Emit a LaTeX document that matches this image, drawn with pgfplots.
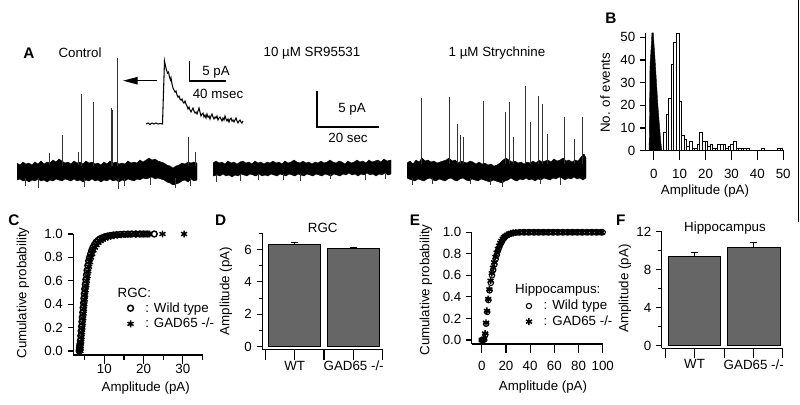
\documentclass[border=0pt]{standalone}
\usepackage{pgfplots}
\pgfplotsset{compat=1.18}
\usetikzlibrary{arrows.meta}
\usepackage{fontspec}
\setmainfont{Liberation Sans}
\newcommand{\fs}{\fontsize{10}{11.5}\selectfont}
\newcommand{\lt}{\fontsize{11.5}{13}\selectfont\bfseries}
\definecolor{barfill}{gray}{0.40}
\pgfplotsset{
  panel/.style={scale only axis, anchor=south west, axis lines=left,
    axis line style={-, line width=0.8pt}, tick align=outside,
    tick style={black, line width=0.8pt},
    major tick length=4.3pt, minor tick length=2.6pt,
    /pgf/number format/assume math mode=true,
    tick label style={font=\fs}, clip=false,
    legend style={font=\fs, draw=none, fill=none, inner sep=0pt, row sep=-1pt},
    legend cell align=left,
    legend image code/.code={\draw[mark repeat=2,mark phase=2,##1] plot coordinates {(0cm,0cm) (0.15cm,0cm) (0.3cm,0cm)}; \path (0.45cm,0cm);}},
}
\begin{document}
\begin{tikzpicture}[font=\fs]
\path[use as bounding box] (0,0) rectangle (600pt,303pt);
% ---------- overlay axis in pixel units (panel A and texts) ----------
\begin{axis}[at={(0pt,0pt)}, anchor=south west, scale only axis, width=600pt, height=303pt,
  xmin=0, xmax=800, ymin=0, ymax=404, y dir=reverse, axis lines=none, clip=false,
  unbounded coords=jump]
% Control trace noise band
\addplot[fill=black, draw=black, line width=0.3pt] coordinates {
(17,163) (20,165) (23,162) (26,164) (29,163) (32,165) (35,162) (38,164) (41,161) (44,164) (47,162) (50,163) (53,160) (56,162) (59,159) (62,161) (65,163) (68,162) (71,164) (74,161) (77,163) (80,162) (83,164) (86,161) (89,163) (92,162) (95,164) (98,163) (101,165) (104,162) (107,164) (110,161) (113,163) (116,162) (119,164) (122,163) (125,164) (128,161) (131,163) (134,162) (137,163) (140,160) (143,162) (146,160) (149,158) (152,160) (155,159) (158,161) (161,162) (164,163) (167,165) (170,166) (173,168) (176,166) (179,165) (182,163) (185,164) (188,162) (191,163) (194,162) (197,163)
(197,180) (194,181) (191,179) (188,182) (185,180) (182,181) (179,183) (176,184) (173,185) (170,183) (167,182) (164,180) (161,179) (158,178) (155,179) (152,177) (149,178) (146,179) (143,178) (140,180) (137,179) (134,181) (131,180) (128,179) (125,181) (122,180) (119,182) (116,180) (113,181) (110,179) (107,181) (104,180) (101,182) (98,180) (95,181) (92,179) (89,181) (86,180) (83,182) (80,180) (77,181) (74,179) (71,181) (68,180) (65,179) (62,181) (59,180) (56,179) (53,181) (50,180) (47,182) (44,180) (41,181) (38,179) (35,181) (32,180) (29,182) (26,180) (23,181) (20,179) (17,180)};
% Control spikes
\addplot[black!80, line width=0.6pt] coordinates {
(62,166) (62,135) (62,nan) (81,166) (81,94) (81,nan) (93,166) (93,102) (93,nan)
(111,166) (111,108) (111,nan) (112.5,166) (112.5,110) (112.5,nan) (117,166) (117,58) (117,nan)
(188,166) (188,137) (188,nan) (195,166) (195,152) (195,nan) (49,165) (49,153) (49,nan) (78,165) (78,152) (78,nan)
(25,178) (25,186) (25,nan) (38,178) (38,188) (38,nan) (84,178) (84,187) (84,nan) (118,178) (118,189) (118,nan)
(124,178) (124,186) (124,nan) (150,178) (150,185) (150,nan) (175,178) (175,188) (175,nan) (190,178) (190,186)};
% SR95531 trace
\addplot[fill=black, draw=black, line width=0.3pt] coordinates {
(213,163) (216,161) (219,163) (222,162) (225,164) (228,161) (231,163) (234,162) (237,164) (240,162) (243,161) (246,163) (249,162) (252,164) (255,161) (258,163) (261,162) (264,164) (267,162) (270,163) (273,161) (276,163) (279,162) (282,164) (285,161) (288,163) (291,162) (294,160) (297,162) (300,163) (303,161) (306,163) (309,162) (312,164) (315,162) (318,163) (321,161) (324,163) (327,162) (330,160) (333,162) (336,163) (339,161) (342,162) (345,164) (348,161) (351,163) (354,162) (357,160) (360,162) (363,161) (366,163) (369,160) (372,162) (375,161) (378,160) (381,162) (384,159) (387,161) (391,160)
(391,174) (388,175) (385,173) (382,175) (379,174) (376,176) (373,174) (370,175) (367,173) (364,175) (361,174) (358,176) (355,174) (352,175) (349,173) (346,175) (343,174) (340,176) (337,175) (334,174) (331,176) (328,175) (325,174) (322,176) (319,175) (316,174) (313,176) (310,175) (307,174) (304,176) (301,175) (298,174) (295,176) (292,175) (289,174) (286,176) (283,175) (280,174) (277,176) (274,175) (271,174) (268,176) (265,175) (262,176) (259,174) (256,176) (253,175) (250,174) (247,176) (244,175) (241,174) (238,176) (235,175) (232,177) (229,175) (226,176) (223,174) (220,176) (217,175) (213,176)};
\addplot[black!80, line width=0.6pt] coordinates {
(216,174) (216,182) (216,nan) (240,174) (240,181) (240,nan) (258,174) (258,180) (258,nan) (283,174) (283,180) (283,nan)
(300,174) (300,181) (300,nan) (330,174) (330,179) (330,nan) (365,174) (365,180) (365,nan) (385,174) (385,179)};
% Strychnine trace
\addplot[fill=black, draw=black, line width=0.3pt] coordinates {
(407,163) (410,161) (413,164) (416,160) (419,162) (422,158) (425,161) (428,160) (431,162) (434,161) (437,163) (440,162) (443,161) (446,160) (449,158) (452,161) (455,160) (458,163) (461,161) (464,162) (467,163) (470,161) (473,162) (476,164) (479,162) (482,164) (485,163) (488,165) (491,164) (494,166) (497,165) (500,163) (503,160) (506,158) (509,160) (512,162) (515,161) (518,163) (521,162) (524,164) (527,162) (530,163) (533,161) (536,163) (539,160) (542,162) (545,161) (548,160) (551,162) (554,159) (557,161) (560,160) (563,158) (566,161) (569,160) (572,162) (575,160) (578,161) (581,157) (584,154) (586,158)
(586,178) (583,180) (580,178) (577,179) (574,177) (571,179) (568,178) (565,180) (562,178) (559,177) (556,179) (553,178) (550,180) (547,179) (544,178) (541,180) (538,179) (535,181) (532,179) (529,180) (526,178) (523,180) (520,179) (517,181) (514,180) (511,178) (508,180) (505,181) (502,183) (499,182) (496,181) (493,180) (490,182) (487,181) (484,180) (481,179) (478,181) (475,180) (472,179) (469,181) (466,180) (463,178) (460,179) (457,181) (454,180) (451,178) (448,179) (445,181) (442,180) (439,179) (436,181) (433,180) (430,178) (427,179) (424,181) (421,180) (418,179) (415,181) (412,180) (409,179) (407,178)};
\addplot[black!80, line width=0.6pt] coordinates {
(421,164) (421,98) (421,nan) (449,164) (449,97) (449,nan) (457,164) (457,124) (457,nan) (460,164) (460,135) (460,nan)
(463,164) (463,137) (463,nan) (483,164) (483,101) (483,nan) (505,164) (505,112) (505,nan) (509,164) (509,102) (509,nan)
(513,164) (513,137) (513,nan) (525,164) (525,86) (525,nan) (530,164) (530,122) (530,nan) (538,164) (538,96) (538,nan)
(542,164) (542,104) (542,nan) (547,164) (547,134) (547,nan) (564,164) (564,117) (564,nan) (574,164) (574,139) (574,nan)
(582,164) (582,117) (582,nan)
(412,178) (412,185) (412,nan) (432,178) (432,184) (432,nan) (470,178) (470,184) (470,nan) (490,178) (490,185) (490,nan)
(502,180) (502,187) (502,nan) (540,178) (540,184) (540,nan) (560,178) (560,185)};
% inset event
\addplot[black, line width=0.8pt] coordinates {
(146,124) (148,123) (150,124.5) (152,123) (154,124) (156,123) (158,124) (160,123.5) (162.5,124) (163.5,92) (164.5,61) (165.5,66) (166.5,70) (167.5,73) (168.5,72) (169.5,77) (170.5,80) (171,78) (172,84) (173,88) (174,90) (175,92) (176,91) (177,95) (178,97) (179,96) (180,99) (181,100) (182,99) (183,102) (184,103) (185,101) (186,104) (187,106) (188,109) (189,107) (190,110) (191,112) (192,110) (193,108) (194,111) (195,113) (196,112) (197,114) (198,111) (199,108) (200,112) (201,116) (202,114) (203,113) (204,117) (205,115) (206,118) (207,114) (208,117) (209,116) (210,119) (211,116) (212,114) (213,117) (214,119) (215,117) (216,118) (217,116) (218,120) (219,118) (220,117) (221,119) (222,121) (223,118) (224,120) (225,116) (226,119) (227,121) (228,119) (229,122) (230,119) (231,118) (232,121) (233,120) (234,122) (235,120) (236,118) (237,121) (238,123) (239,121) (240,120) (241,122) (242,123) (243,121)};
% arrow
\addplot[black, line width=1pt, -{Triangle[length=11pt,width=5.5pt]}] coordinates {(157,80.7) (123,80.7)};
% scale bars
\addplot[black, line width=0.9pt] coordinates {(189.3,61) (189.3,81) (225.7,81)};
\addplot[black, line width=0.9pt] coordinates {(317,91) (317,127) (379,127)};
% edge line
\addplot[black, line width=0.8pt] coordinates {(798.5,0) (798.5,222)};
% texts
\node[font=\lt] at (axis cs:29,53) {A};
\node at (axis cs:80,53) {Control};
\node at (axis cs:312,53) {10 µM SR95531};
\node at (axis cs:497,53) {1 µM Strychnine};
\node at (axis cs:216,72) {5 pA};
\node at (axis cs:218,94) {40 msec};
\node at (axis cs:352,109) {5 pA};
\node at (axis cs:348,138) {20 sec};
\node[font=\lt] at (axis cs:611,18) {B};
\node[rotate=90] at (axis cs:605,93) {No. of events};
\node at (axis cs:705,191) {Amplitude (pA)};
\node[font=\lt] at (axis cs:14,220.7) {C};
\node[rotate=90] at (axis cs:23,293) {Cumulative probability};
\node at (axis cs:145.7,388) {Amplitude (pA)};
\node[anchor=west] at (axis cs:113,293) {RGC:};
\node[font=\lt] at (axis cs:220.7,220.7) {D};
\node at (axis cs:322.7,228.3) {RGC};
\node[rotate=90] at (axis cs:226,291) {Amplitude (pA)};
\node[font=\lt] at (axis cs:415,220) {E};
\node[rotate=90] at (axis cs:426,290) {Cumulative probability};
\node at (axis cs:543,387) {Amplitude (pA)};
\node[anchor=west] at (axis cs:510.5,290) {Hippocampus:};
\node[font=\lt] at (axis cs:620.7,220.7) {F};
\node at (axis cs:725,228.3) {Hippocampus};
\node[rotate=90] at (axis cs:625,288.5) {Amplitude (pA)};
\end{axis}
% ---------- B histogram ----------
\begin{axis}[panel, at={(484.3pt,190pt)}, width=103.7pt, height=88.4pt,
  xmin=-3.1, xmax=50.3, ymin=0, ymax=52,
  xtick={0,10,20,30,40,50}, ytick={0,10,20,30,40,50},
  xtick style={/pgfplots/major tick length=6.75pt},
  xticklabel style={yshift=-6pt}]
\addplot[fill=black, draw=black, line width=0.3pt] coordinates {(-1.8,0) (-1.6,20) (-1.45,38) (-1.2,42) (-0.9,48) (-0.7,52) (-0.2,52) (0.4,42) (1.0,31) (1.6,20) (2.2,11) (2.7,4) (3.1,0)};
\addplot[ybar, bar width=1, fill=white, draw=black, line width=0.4pt] coordinates {
(4.2,8) (5.2,16) (6.2,23) (7.2,38) (8.2,48) (9.2,52) (10.2,22) (11.2,7) (12.2,5) (13.2,2) (14.2,4) (15.2,1) (16.2,1) (17.2,3) (18.2,8) (19.2,4) (20.2,4) (21.2,2) (22.2,3) (23.2,1) (24.2,1) (25.2,3) (26.2,3) (27.2,3) (28.2,1) (29.2,2) (30.2,3) (31.2,4) (32.2,1) (33.2,1) (34.2,1) (35.2,1) (36.2,1) (42.2,1) (48.2,1) (49.2,1)};
\end{axis}
% ---------- C cumulative RGC ----------
\begin{axis}[panel, at={(55pt,36.75pt)}, width=97.5pt, height=90.75pt,
  xmin=2.1, xmax=35.2, ymin=-0.034, ymax=1.0,
  xtick={10,20,30}, minor xtick={5,15,25,35}, ytick={0,0.2,0.4,0.6,0.8,1},
  yticklabel style={/pgf/number format/.cd, fixed, fixed zerofill, precision=1},
  xtick style={/pgfplots/major tick length=7pt, /pgfplots/minor tick length=4pt},
  xticklabel style={yshift=1pt},
  legend style={at={(0.415,0.322)}, anchor=west}]
\addplot[only marks, mark=o, mark size=2.2pt, line width=1.1pt] coordinates {
(3.6,0) (3.65,0.015) (3.7,0.03) (3.75,0.045) (3.8,0.06) (3.9,0.09) (4.0,0.13) (4.1,0.17) (4.2,0.21) (4.3,0.25) (4.4,0.29) (4.5,0.33) (4.6,0.37) (4.7,0.41) (4.8,0.45) (4.9,0.49) (5.0,0.53) (5.15,0.57) (5.3,0.61) (5.45,0.65) (5.6,0.69) (5.8,0.73) (6.0,0.77) (6.25,0.80) (6.5,0.83) (6.8,0.86) (7.1,0.885) (7.5,0.91) (7.9,0.93) (8.4,0.945) (8.9,0.958) (9.5,0.968) (10.1,0.976) (10.8,0.982) (11.5,0.987) (12.3,0.991) (13.1,0.994) (14,0.996) (15,0.998) (16,0.999) (17,1) (18,1) (19,1) (20,1) (21,1) (22.7,1)};
\addlegendentry{: Wild type}
\addplot[only marks, mark=asterisk, mark size=2.6pt, line width=1.1pt] coordinates {
(3.9,0) (3.95,0.02) (4.0,0.04) (4.1,0.08) (4.2,0.12) (4.3,0.16) (4.4,0.2) (4.5,0.24) (4.6,0.28) (4.7,0.32) (4.8,0.36) (4.9,0.4) (5.0,0.44) (5.1,0.48) (5.25,0.52) (5.4,0.56) (5.55,0.6) (5.7,0.64) (5.9,0.68) (6.1,0.72) (6.35,0.76) (6.6,0.8) (6.9,0.83) (7.2,0.86) (7.6,0.885) (8.0,0.905) (8.5,0.925) (9.0,0.94) (9.6,0.953) (10.2,0.964) (10.9,0.973) (11.6,0.98) (12.4,0.986) (13.3,0.99) (14.3,0.994) (15.4,0.996) (16.6,0.998) (18,0.999) (19.5,1) (20.5,1) (21.5,1) (24.8,1) (30.3,1)};
\addlegendentry{: GAD65 -/-}
\end{axis}
% ---------- D bars RGC ----------
\begin{axis}[panel, at={(196.7pt,40.6pt)}, width=90.3pt, height=87.45pt,
  xmin=0, xmax=120.4, ymin=-0.2, ymax=7,
  xtick={3.4,61.7,120.4}, xticklabels={},
  ytick={0,2,4,6}, minor ytick={1,3,5,7},
  xtick style={/pgfplots/major tick length=7.5pt},
  extra x ticks={32.5,91.4}, extra x tick labels={WT,GAD65 -/-},
  extra x tick style={/pgfplots/major tick length=0pt, xticklabel style={yshift=-5pt}}]
\addplot[ybar, bar width=52, fill=barfill, draw=black, line width=0.6pt,
  error bars/.cd, y dir=plus, y explicit, error bar style={line width=0.6pt},
  error mark options={rotate=90, mark size=2.5pt, line width=0.6pt}]
  coordinates {(32.55,6.32) +- (0,0.12) (91.35,6.07) +- (0,0.05)};
\end{axis}
% ---------- E cumulative hippocampus ----------
\begin{axis}[panel, at={(353.8pt,45pt)}, width=98.7pt, height=83.8pt,
  xmin=-8.3, xmax=100.5, ymin=-0.037, ymax=1.0,
  xtick={0,20,40,60,80,100}, ytick={0,0.2,0.4,0.6,0.8,1},
  yticklabel style={/pgf/number format/.cd, fixed, fixed zerofill, precision=1},
  xtick style={/pgfplots/major tick length=7pt},
  xticklabel style={yshift=-5pt},
  legend style={at={(0.41,0.27)}, anchor=west}]
\addplot[only marks, mark=o, mark size=2pt, line width=0.8pt] coordinates {
(0,0) (1,0) (2,0.005) (3,0.05) (3.6,0.15) (4.5,0.26) (5.5,0.37) (6.5,0.46) (7.5,0.53) (8.5,0.6) (9.5,0.65) (10.5,0.7) (11.5,0.75) (12.5,0.79) (13.5,0.83) (14.5,0.86) (15.5,0.89) (16.5,0.91) (17.5,0.93) (18.5,0.945) (19.5,0.958) (21,0.97) (22.5,0.98) (24,0.987) (26,0.992) (28,0.996) (30,0.998)
(32,1) (34,1) (36,1) (38,1) (40,1) (42,1) (44,1) (46,1) (48,1) (50,1) (52,1) (54,1) (56,1) (58,1) (60,1) (62,1) (64,1) (66,1) (68,1) (70,1) (72,1) (74,1) (76,1) (78,1) (80,1) (82,1) (84,1) (86,1) (88,1) (90,1) (92,1) (94,1) (96,1) (98,1) (100,1)};
\addlegendentry{: Wild type}
\addplot[only marks, mark=asterisk, mark size=2.6pt, line width=1.1pt] coordinates {
(0,0) (1.2,0) (2,0.01) (2.8,0.06) (3.5,0.16) (4.3,0.27) (5.3,0.38) (6.3,0.47) (7.3,0.55) (8.3,0.62) (9.3,0.67) (10.3,0.72) (11.3,0.77) (12.3,0.81) (13.3,0.845) (14.3,0.875) (15.3,0.9) (16.3,0.92) (17.3,0.94) (18.3,0.955) (19.5,0.965) (21,0.975) (22.5,0.983) (24,0.99) (26,0.995) (28,0.998)
(31,1) (35,1) (39,1) (43,1) (47,1) (51,1) (55,1) (59,1) (63,1) (67,1) (71,1) (75,1) (79,1) (83,1) (87,1) (91,1) (95,1) (99,1)};
\addlegendentry{: GAD65 -/-}
\end{axis}
% ---------- F bars hippocampus ----------
\begin{axis}[panel, at={(496.3pt,41.8pt)}, width=90.75pt, height=87.45pt,
  xmin=0, xmax=121, ymin=-0.27, ymax=12,
  xtick={4,62.3,121}, xticklabels={},
  ytick={0,4,8,12}, minor ytick={2,6,10},
  xtick style={/pgfplots/major tick length=7.5pt},
  extra x ticks={32.8,92}, extra x tick labels={WT,GAD65 -/-},
  extra x tick style={/pgfplots/major tick length=0pt, xticklabel style={yshift=-5pt}}]
\addplot[ybar, bar width=52.5, fill=barfill, draw=black, line width=0.6pt,
  error bars/.cd, y dir=plus, y explicit, error bar style={line width=0.6pt},
  error mark options={rotate=90, mark size=2.5pt, line width=0.6pt}]
  coordinates {(32.8,9.37) +- (0,0.5) (91.95,10.3) +- (0,0.6)};
\end{axis}
\end{tikzpicture}
\end{document}
